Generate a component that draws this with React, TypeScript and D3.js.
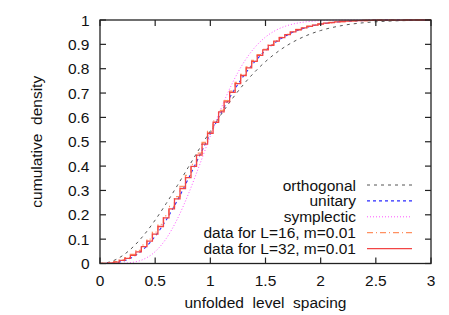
import React from "react";
import * as d3 from "d3";

const W = 449;
const H = 315;

// theory curves (Wigner surmise cumulative distributions), read at these spacings
const theoryS = [0, 0.1, 0.2, 0.3, 0.4, 0.5, 0.6, 0.7, 0.8, 0.9, 1.0, 1.1, 1.2, 1.3, 1.4, 1.5, 1.6, 1.7, 1.8, 1.9, 2.0, 2.2, 2.4, 2.6, 2.8, 3.0];
const orthogonal = [0, 0.0078, 0.0309, 0.0682, 0.1181, 0.1783, 0.2463, 0.3194, 0.3951, 0.4707, 0.5441, 0.6134, 0.6773, 0.7348, 0.7855, 0.8292, 0.8661, 0.8967, 0.9215, 0.9413, 0.9568, 0.9777, 0.9892, 0.9951, 0.9979, 0.9992];
const unitary = [0, 0.0011, 0.0084, 0.0273, 0.0613, 0.112, 0.1786, 0.2584, 0.3473, 0.4405, 0.5331, 0.6207, 0.7002, 0.7695, 0.8275, 0.8745, 0.9111, 0.9387, 0.9589, 0.9732, 0.983, 0.9936, 0.9979, 0.9994, 0.9998, 1.0];
const symplectic = [0, 0.0, 0.0007, 0.0049, 0.0184, 0.0488, 0.1024, 0.1818, 0.2842, 0.4016, 0.5238, 0.6396, 0.741, 0.8234, 0.8857, 0.9299, 0.9592, 0.9774, 0.9881, 0.9941, 0.9972, 0.9995, 0.9999, 1, 1, 1];

// histogram bins of the data
const binS = [0, 0.05, 0.1, 0.15, 0.2, 0.25, 0.3, 0.35, 0.4, 0.45, 0.5, 0.55, 0.6, 0.65, 0.7, 0.75, 0.8, 0.85, 0.9, 0.95, 1.0, 1.05, 1.1, 1.15, 1.2, 1.25, 1.3, 1.35, 1.4, 1.45, 1.5, 1.55, 1.6, 1.65, 1.7, 1.75, 1.8, 1.85, 1.9, 1.95, 2.0, 2.05, 2.1, 2.15, 2.2, 2.25, 2.3, 2.35, 2.4, 2.45, 2.5, 2.55, 2.6, 2.65, 2.7, 2.75, 2.8, 2.85, 2.9, 2.95, 3.0];
const dataL16 = [0, 0.0005, 0.0028, 0.0075, 0.0145, 0.0245, 0.037, 0.054, 0.076, 0.1, 0.129, 0.161, 0.196, 0.234, 0.275, 0.317, 0.362, 0.407, 0.453, 0.497, 0.542, 0.586, 0.629, 0.669, 0.708, 0.744, 0.777, 0.807, 0.834, 0.858, 0.879, 0.898, 0.915, 0.929, 0.941, 0.952, 0.961, 0.9685, 0.9745, 0.9795, 0.9838, 0.987, 0.9898, 0.9921, 0.9939, 0.9954, 0.9965, 0.9974, 0.998, 0.9985, 0.9989, 0.9992, 0.9994, 0.9996, 0.9997, 0.9998, 0.9999, 0.9999, 1, 1, 1];
const dataL32 = [0, 0.0004, 0.0022, 0.006, 0.0125, 0.021, 0.033, 0.048, 0.069, 0.092, 0.121, 0.152, 0.187, 0.224, 0.265, 0.308, 0.353, 0.399, 0.445, 0.49, 0.535, 0.58, 0.623, 0.664, 0.703, 0.739, 0.772, 0.803, 0.83, 0.855, 0.877, 0.896, 0.913, 0.928, 0.94, 0.951, 0.96, 0.968, 0.974, 0.979, 0.9835, 0.9868, 0.9896, 0.992, 0.9938, 0.9953, 0.9964, 0.9973, 0.998, 0.9985, 0.9989, 0.9992, 0.9994, 0.9996, 0.9997, 0.9998, 0.9999, 0.9999, 1, 1, 1];

const xTicks = [0, 0.5, 1, 1.5, 2, 2.5, 3];
const xTickLabels = ["0", "0.5", "1", "1.5", "2", "2.5", "3"];
const yTicks = [0, 0.1, 0.2, 0.3, 0.4, 0.5, 0.6, 0.7, 0.8, 0.9, 1];
const yTickLabels = ["0", "0.1", "0.2", "0.3", "0.4", "0.5", "0.6", "0.7", "0.8", "0.9", "1"];

const legendLabels = ["orthogonal", "unitary", "symplectic", "data for L=16, m=0.01", "data for L=32, m=0.01"];

const FONT = "'Liberation Sans', Arial, Helvetica, sans-serif";
const FS = 15.5;

export default function App() {
  const left = 100, right = 431, top = 20, bottom = 263.5;
  const x = d3.scaleLinear().domain([0, 3]).range([left, right]);
  const y = d3.scaleLinear().domain([0, 1]).range([bottom, top]);

  const smooth = (vals: number[]) =>
    d3.line<number>().x((_, i) => x(theoryS[i])).y((v) => y(v)).curve(d3.curveMonotoneX)(vals) || "";
  const steps = (vals: number[]) =>
    d3.line<number>().x((_, i) => x(binS[i])).y((v) => y(v)).curve(d3.curveStep)(vals) || "";

  const styles = [
    { stroke: "#555555", dash: "3,4", width: 1 },
    { stroke: "#2a2aff", dash: "3,3", width: 1.1 },
    { stroke: "#ff55ff", dash: "1,2", width: 1 },
    { stroke: "#ff9060", dash: "6,3,1,3", width: 1.3 },
    { stroke: "#f24545", dash: "", width: 1.3 },
  ];

  const paths = [smooth(orthogonal), smooth(unitary), smooth(symplectic), steps(dataL16), steps(dataL32)];

  const tickLen = 6;
  const legendY0 = 185;
  const legendDy = 15.9;

  return (
    <svg width={W} height={H} style={{ position: "absolute", left: 0, top: 0, background: "#fff" }} fontFamily={FONT}>
      <defs>
        <clipPath id="plot">
          <rect x={left} y={top - 1} width={right - left} height={bottom - top + 1} />
        </clipPath>
      </defs>
      {/* curves */}
      <g clipPath="url(#plot)">
        {paths.map((d, i) => (
          <path key={i} d={d} fill="none" stroke={styles[i].stroke} strokeWidth={styles[i].width}
            strokeDasharray={styles[i].dash || undefined} />
        ))}
      </g>
      {/* ticks */}
      {xTicks.map((t, i) => (
        <g key={"x" + i}>
          <line x1={x(t)} x2={x(t)} y1={bottom} y2={bottom - tickLen} stroke="#222" strokeWidth={1.2} />
          <line x1={x(t)} x2={x(t)} y1={top} y2={top + tickLen} stroke="#222" strokeWidth={1.2} />
          <text x={x(t)} y={285.5} textAnchor="middle" fontSize={FS} fill="#111">{xTickLabels[i]}</text>
        </g>
      ))}
      {yTicks.map((t, i) => (
        <g key={"y" + i}>
          <line x1={left} x2={left + tickLen} y1={y(t)} y2={y(t)} stroke="#222" strokeWidth={1.2} />
          <line x1={right} x2={right - tickLen} y1={y(t)} y2={y(t)} stroke="#222" strokeWidth={1.2} />
          <text x={89.5} y={y(t) + 5.5} textAnchor="end" fontSize={FS} fill="#111">{yTickLabels[i]}</text>
        </g>
      ))}
      {/* frame */}
      <rect x={left} y={top} width={right - left} height={bottom - top} fill="none" stroke="#222" strokeWidth={1.3} />
      {/* axis labels */}
      <text x={(left + right) / 2} y={308} textAnchor="middle" fontSize={FS} fill="#111" style={{ whiteSpace: "pre" }}>
        {"unfolded  level  spacing"}
      </text>
      <text transform={`translate(42,${(top + bottom) / 2}) rotate(-90)`} textAnchor="middle" fontSize={FS} fill="#111"
        style={{ whiteSpace: "pre" }}>
        {"cumulative  density"}
      </text>
      {/* legend */}
      {legendLabels.map((lab, i) => {
        const ly = legendY0 + i * legendDy;
        return (
          <g key={"l" + i}>
            <text x={356} y={ly + 5.5} textAnchor="end" fontSize={FS} fill="#111">{lab}</text>
            <line x1={367} x2={412} y1={ly} y2={ly} stroke={styles[i].stroke} strokeWidth={styles[i].width}
              strokeDasharray={styles[i].dash || undefined} />
          </g>
        );
      })}
    </svg>
  );
}
